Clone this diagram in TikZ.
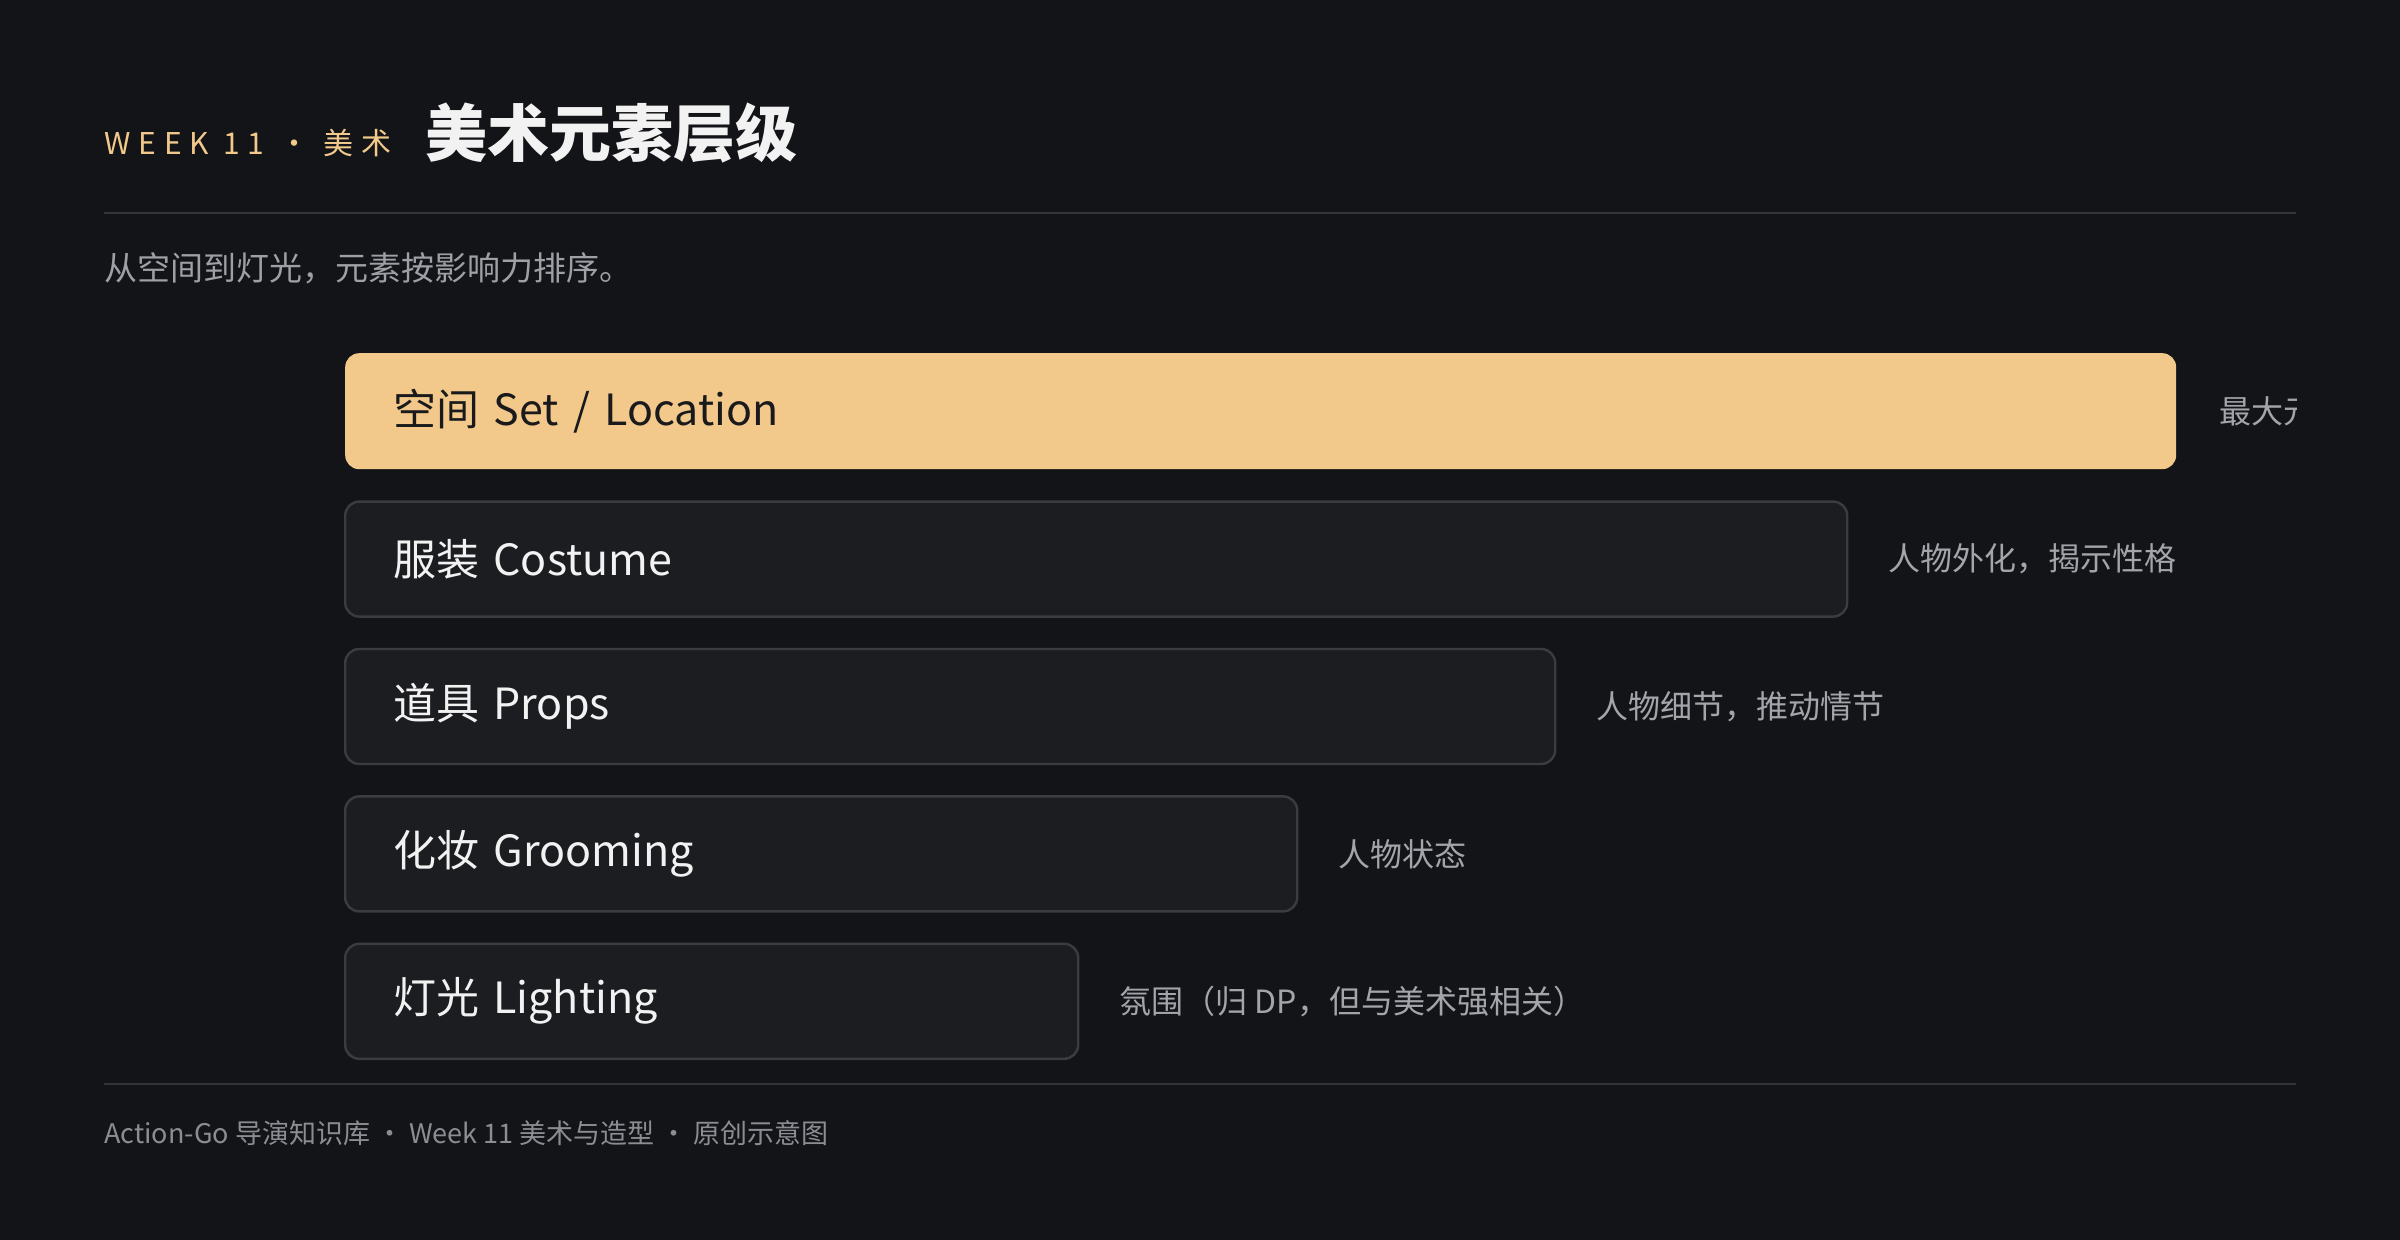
\documentclass[tikz,border=0pt]{standalone}
\usepackage{fontspec}
\setmainfont{Noto Sans CJK SC}
\usetikzlibrary{positioning}
\definecolor{pagebg}{HTML}{131418}
\definecolor{gold}{HTML}{F2C98A}
\definecolor{barfill}{HTML}{1C1D21}
\definecolor{barline}{HTML}{3B3C42}
\definecolor{barfg}{HTML}{F2F2F2}
\definecolor{bardark}{HTML}{1A1A1C}
\definecolor{rulegray}{HTML}{34353A}
\definecolor{subgray}{HTML}{9EA0A6}
\definecolor{notegray}{HTML}{A3A5AB}
\definecolor{footgray}{HTML}{8B8D93}
\newcommand{\PxFont}[1]{\fontsize{#1pt}{#1pt}\selectfont}
\tikzset{
    bar/.style={draw=barline, fill=barfill, line width=1.2pt, rounded corners=7pt,
      minimum height=57.5pt, inner xsep=24pt, inner ysep=0pt, align=left,
      anchor=north west, text=barfg, font=\PxFont{21.5}},
    hibar/.style={bar, draw=none, fill=gold, text=bardark, minimum height=58pt},
    note/.style={inner sep=0pt, anchor=west, text=notegray, font=\PxFont{16}},
    rulestyle/.style={draw=rulegray, line width=1pt},
}

\begin{document}
\begin{tikzpicture}[x=0.5pt, y=-0.5pt]
    \fill[pagebg] (0,0) rectangle (2400,1240);
    \useasboundingbox (0,0) rectangle (2400,1240);

    % header
    \node[anchor=base west, inner sep=0pt, text=gold, font=\PxFont{15}\addfontfeatures{LetterSpace=26}] (kicker) at (104,155) {WEEK 11 · 美术};
    \node[anchor=base west, inner sep=0pt, text=barfg, font=\PxFont{31}\bfseries] (title) at (425,157) {美术元素层级};
    \coordinate (topl) at (104,213);
    \coordinate (topr) at (2296,213);
    \draw[rulestyle] (topl) -- (topr);
    \node[anchor=west, inner sep=0pt, text=subgray, font=\PxFont{16.5}] (sub) at (104,268) {从空间到灯光，元素按影响力排序。};

    % bars
    \node[hibar, text width=867.5pt] (set) at (344,352) {空间 Set / Location};
    \node[bar, text width=703pt, below=15pt of set.south west, anchor=north west] (costume) {服装 Costume};
    \node[bar, text width=557pt, below=15pt of costume.south west, anchor=north west] (props) {道具 Props};
    \node[bar, text width=428pt, below=15pt of props.south west, anchor=north west] (groom) {化妆 Grooming};
    \node[bar, text width=318.5pt, below=15pt of groom.south west, anchor=north west] (light) {灯光 Lighting};

    % notes
    \begin{scope}
      \clip (0,0) rectangle (2296,1240);
      \node[note, right=21pt of set] (setnote) {最大元素};
    \end{scope}
    \node[note, right=20pt of costume] (costnote) {人物外化，揭示性格};
    \node[note, right=20pt of props] (propnote) {人物细节，推动情节};
    \node[note, right=20pt of groom] (groomnote) {人物状态};
    \node[note, right=20pt of light] (lightnote) {氛围（归 DP，但与美术强相关）};

    % footer
    \coordinate (botl) at (104,1084);
    \coordinate (botr) at (2296,1084);
    \draw[rulestyle] (botl) -- (botr);
    \node[anchor=west, inner sep=0pt, text=footgray, font=\PxFont{13.5}] (foot) at (104,1133) {Action-Go 导演知识库 · Week 11 美术与造型 · 原创示意图};
\end{tikzpicture}
\end{document}
